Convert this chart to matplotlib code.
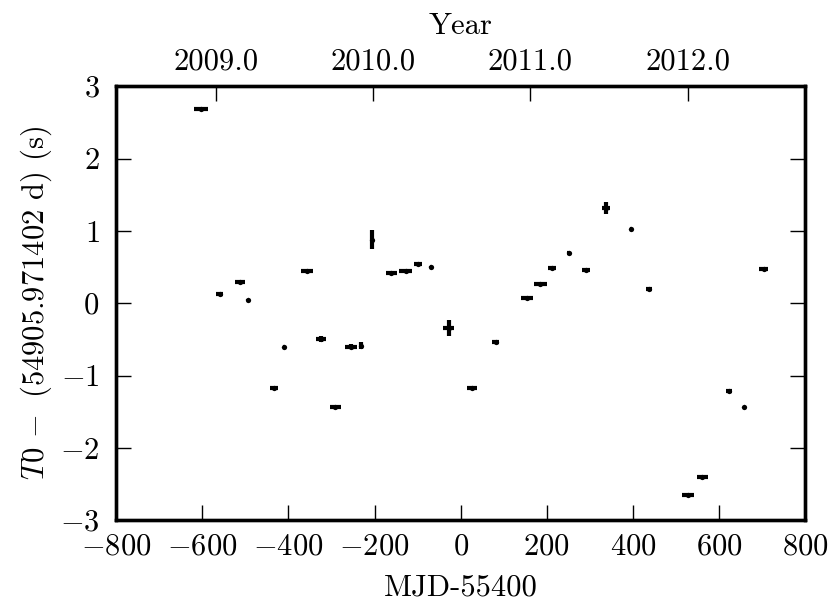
import numpy as np
import matplotlib
matplotlib.use("Agg")
import matplotlib.pyplot as plt

plt.rcParams['font.family'] = 'serif'
plt.rcParams['font.serif'] = ['cmr10']
plt.rcParams['mathtext.fontset'] = 'cm'
plt.rcParams['axes.formatter.use_mathtext'] = True
plt.rcParams['axes.unicode_minus'] = True

# Datos (MJD-55400, T0 residual, errores)
mjd = np.array([-603, -560, -513, -493, -434, -411, -357, -325, -291, -255,
                -232, -206, -161, -128, -99, -69, -28, 26, 81, 154,
                185, 212, 251, 291, 337, 395, 437, 528, 561, 624,
                659, 704])
t0 = np.array([2.68, 0.13, 0.295, 0.05, -1.17, -0.61, 0.45, -0.50, -1.43, -0.60,
               -0.59, 0.88, 0.415, 0.44, 0.535, 0.50, -0.34, -1.17, -0.53, 0.065,
               0.27, 0.49, 0.70, 0.46, 1.32, 1.02, 0.19, -2.65, -2.40, -1.22,
               -1.44, 0.47])
mjd_err = np.array([16, 8, 11.5, 2, 9, 2, 14.5, 12, 13, 14,
                    3, 2, 13.5, 14.5, 8.5, 3, 13.5, 11, 9, 14.5,
                    15, 10, 3, 9, 9, 2, 7, 14, 13, 7,
                    2, 10])
t0_err = np.array([0.01, 0.01, 0.01, 0.01, 0.01, 0.01, 0.01, 0.04, 0.01, 0.03,
                   0.05, 0.13, 0.01, 0.01, 0.01, 0.01, 0.11, 0.01, 0.01, 0.01,
                   0.01, 0.01, 0.01, 0.01, 0.08, 0.01, 0.01, 0.01, 0.02, 0.01,
                   0.01, 0.01])

# Eje superior: 1 de enero de cada año en MJD-55400
year_pos = [-568, -203, 162, 527]
year_lab = ['2009.0', '2010.0', '2011.0', '2012.0']

fs = 22

fig = plt.figure(figsize=(8.3, 6.07), dpi=100)
ax = fig.add_axes([0.140, 0.143, 0.830, 0.715])

ax.errorbar(mjd, t0, xerr=mjd_err, yerr=t0_err, fmt='o', color='k',
            ms=3.8, mew=0, elinewidth=3, capsize=0)

ax.set_xlim(-800, 800)
ax.set_ylim(-3, 3)
ax.set_xticks(np.arange(-800, 801, 200))
ax.set_yticks(np.arange(-3, 4, 1))
ax.set_xlabel('MJD-55400', fontsize=fs, labelpad=10)
ax.set_ylabel(r'$T0\,-$ (54905.971402 d) (s)', fontsize=fs, labelpad=4)
ax.tick_params(direction='in', length=11, width=1, labelsize=fs,
               right=True)
ax.tick_params(axis='x', pad=9)
ax.tick_params(axis='y', pad=12)
for s in ax.spines.values():
    s.set_linewidth(2.4)

ax2 = ax.twiny()
ax2.set_xlim(ax.get_xlim())
ax2.set_xticks(year_pos)
ax2.set_xticklabels(year_lab)
ax2.set_xlabel('Year', fontsize=fs, labelpad=10)
ax2.tick_params(direction='in', length=11, width=1, labelsize=fs, pad=8)
for s in ax2.spines.values():
    s.set_linewidth(2.4)

fig.savefig('out.png', dpi=100)
